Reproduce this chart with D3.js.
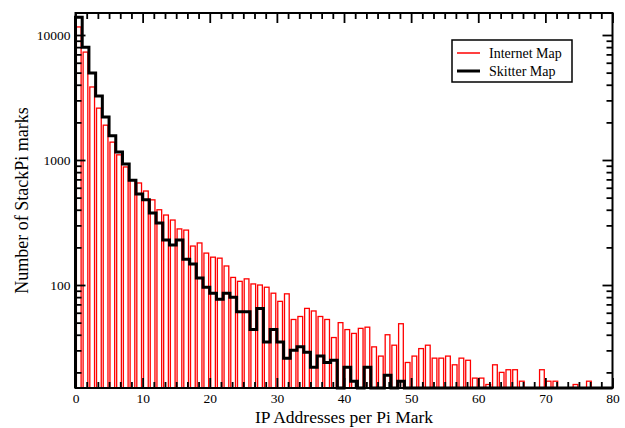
<!DOCTYPE html>
<html>
<head>
<meta charset="utf-8">
<script src="https://cdn.jsdelivr.net/npm/d3@7"></script>
<style>
  body { margin: 0; background: #fff; }
  text { font-family: "Liberation Serif", "Times New Roman", serif; fill: #000; }
</style>
</head>
<body>
<script>
// ---- data ----
const binStart = d3.range(0, 80); // IP addresses per Pi mark: bins 0..79
const internetMap = [
  11600, 7300, 3840, 2600, 1900, 1390, 1100, 880, 690, 655,
  565, 480, 400, 363, 331, 281, 275, 205, 217, 180,
  167, 164, 142, 115, 107, 112, 102, 100, 96, 86,
  74, 85, 53, 56, 65, 62, 56, 53, 38, 50,
  44, 41, 45, 46, 32, 27, 40, 33, 49, 24,
  27, 31, 33, 26, 26, 27, 23, 26, 25, 18,
  18, 16, 23, 20, 21, 21, 17, 0, 0, 21,
  17, 17, 0, 0, 16, 0, 17, 0, 0, 0
];
const skitterMap = [
  13900, 8000, 4970, 3250, 2210, 1560, 1160, 930, 690, 535,
  480, 377, 313, 229, 209, 229, 161, 147, 114, 96,
  86, 77, 86, 80, 61, 61, 44, 65, 35, 44,
  35, 26, 30, 32, 29, 22, 27, 24, 25, 12,
  22, 17, 13, 22, 12, 15, 19, 12, 17, 0,
  0, 0, 0, 0, 0, 0, 0, 0, 0, 0,
  0, 0, 0, 0, 0, 0, 0, 0, 0, 0,
  0, 0, 0, 0, 0, 0, 0, 0, 0, 0
];
const xMajorTicks = [0, 10, 20, 30, 40, 50, 60, 70, 80];
const yMajorTicks = [100, 1000, 10000];
const seriesNames = ["Internet Map", "Skitter Map"];
const xTitle = "IP Addresses per Pi Mark";
const yTitle = "Number of StackPi marks";

// ---- layout ----
const W = 625, H = 428;
const L = 75.5, R = 612.5, T = 13, B = 388;

const svg = d3.select("body").append("svg").attr("width", W).attr("height", H);

const x = d3.scaleLinear().domain([0, 80]).range([L, R]);
const y = d3.scaleLog().domain([15, 15000]).range([B, T]).clamp(true);
const yMin = y.domain()[0];

svg.append("clipPath").attr("id", "plotclip")
  .append("rect").attr("x", L).attr("y", T).attr("width", R - L).attr("height", B - T);

// red outlined histogram bars
const barData = binStart.map((b, i) => ({ b, v: internetMap[i] })).filter(d => d.v > 0);
svg.append("g").attr("clip-path", "url(#plotclip)")
  .selectAll("rect").data(barData).join("rect")
  .attr("x", d => x(d.b) + 0.9)
  .attr("width", d => x(d.b + 1) - x(d.b) - 2.0)
  .attr("y", d => y(d.v))
  .attr("height", d => B + 2 - y(d.v))
  .attr("fill", "none")
  .attr("stroke", "#ff0000")
  .attr("stroke-width", 1.3);

// black step line
const stepPts = [[0, yMin]];
binStart.forEach((b, i) => stepPts.push([b, Math.max(skitterMap[i], yMin)]));
stepPts.push([80, Math.max(skitterMap[skitterMap.length - 1], yMin)]);
const line = d3.line().x(d => x(d[0])).y(d => y(d[1])).curve(d3.curveStepAfter);
svg.append("path").attr("d", line(stepPts))
  .attr("fill", "none").attr("stroke", "#000").attr("stroke-width", 3)
  .attr("stroke-linejoin", "miter");

// ---- axes ----
const xMinor = [];
for (let i = 0; i < 8; i++) for (let k = 1; k < 6; k++) xMinor.push(xMajorTicks[i] + k * 10 / 6);
const yMinor = y.ticks().filter(v => !yMajorTicks.includes(v));

function styleAxis(g) {
  g.select(".domain").remove();
  g.selectAll(".tick line").attr("stroke", "#000").attr("stroke-width", 1.8);
  g.selectAll(".tick text").style("font-size", "13.5px").style("font-family", "Liberation Serif");
}
const majorLen = 10, minorLen = 6;

svg.append("g").attr("transform", `translate(0,${B})`)
  .call(d3.axisBottom(x).tickValues(xMajorTicks).tickSize(-majorLen).tickSizeOuter(0).tickPadding(5).tickFormat(d3.format("d")))
  .call(styleAxis);
svg.append("g").attr("transform", `translate(0,${B})`)
  .call(d3.axisBottom(x).tickValues(xMinor).tickSize(-minorLen).tickSizeOuter(0).tickFormat(""))
  .call(styleAxis);
svg.append("g").attr("transform", `translate(0,${T})`)
  .call(d3.axisTop(x).tickValues(xMajorTicks).tickSize(-majorLen).tickSizeOuter(0).tickFormat(""))
  .call(styleAxis);
svg.append("g").attr("transform", `translate(0,${T})`)
  .call(d3.axisTop(x).tickValues(xMinor).tickSize(-minorLen).tickSizeOuter(0).tickFormat(""))
  .call(styleAxis);

svg.append("g").attr("transform", `translate(${L},0)`)
  .call(d3.axisLeft(y).tickValues(yMajorTicks).tickSize(-majorLen).tickSizeOuter(0).tickPadding(5).tickFormat(d3.format("d")))
  .call(styleAxis);
svg.append("g").attr("transform", `translate(${L},0)`)
  .call(d3.axisLeft(y).tickValues(yMinor).tickSize(-minorLen).tickSizeOuter(0).tickFormat(""))
  .call(styleAxis);
svg.append("g").attr("transform", `translate(${R},0)`)
  .call(d3.axisRight(y).tickValues(yMajorTicks).tickSize(-majorLen).tickSizeOuter(0).tickFormat(""))
  .call(styleAxis);
svg.append("g").attr("transform", `translate(${R},0)`)
  .call(d3.axisRight(y).tickValues(yMinor).tickSize(-minorLen).tickSizeOuter(0).tickFormat(""))
  .call(styleAxis);

// frame
svg.append("rect").attr("x", L).attr("y", T).attr("width", R - L).attr("height", B - T)
  .attr("fill", "none").attr("stroke", "#000").attr("stroke-width", 2);

// titles
svg.append("text").attr("x", (L + R) / 2).attr("y", 423)
  .attr("text-anchor", "middle")
  .style("font-size", "17.5px").text(xTitle);
svg.append("text").attr("transform", `translate(22,${(T + B) / 2}) rotate(-90)`)
  .attr("text-anchor", "middle").attr("dominant-baseline", "central")
  .style("font-size", "18px").text(yTitle);

// legend
const lg = svg.append("g");
lg.append("rect").attr("x", 452).attr("y", 40).attr("width", 120).attr("height", 42)
  .attr("fill", "#fff").attr("stroke", "#000").attr("stroke-width", 1.5);
const legendColors = ["#ff0000", "#000"];
const legendWidths = [1.5, 3];
seriesNames.forEach((name, i) => {
  const yy = 53 + i * 18;
  lg.append("line").attr("x1", 457).attr("x2", 480).attr("y1", yy).attr("y2", yy)
    .attr("stroke", legendColors[i]).attr("stroke-width", legendWidths[i]);
  lg.append("text").attr("x", 489).attr("y", yy).attr("dominant-baseline", "central")
    .style("font-size", "14px").text(name);
});
</script>
</body>
</html>
